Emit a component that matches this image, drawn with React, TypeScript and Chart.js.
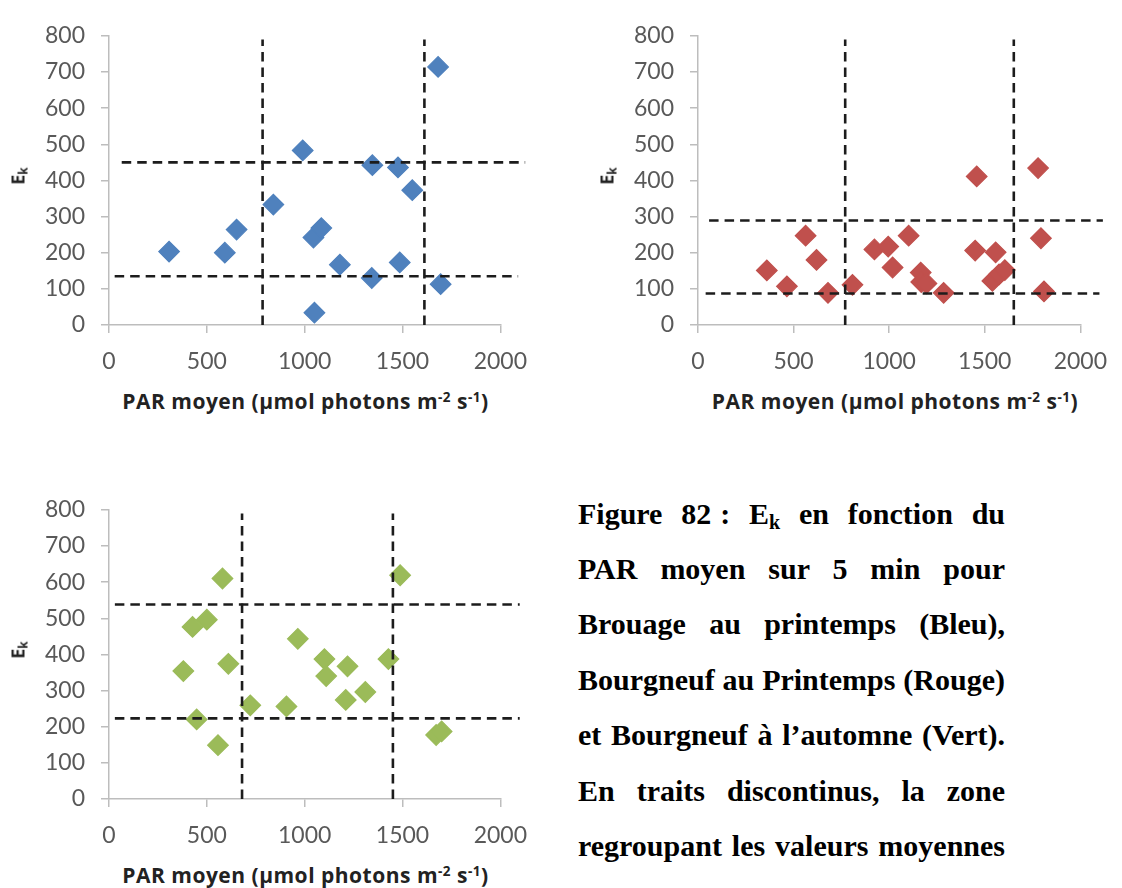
import React, { useEffect, useRef } from "react";
import { Chart, registerables } from "chart.js";

Chart.register(...registerables);

// ---------------- Data ----------------
const xTickValues = [0, 500, 1000, 1500, 2000];
const yTickValues = [0, 100, 200, 300, 400, 500, 600, 700, 800];

// Brouage au printemps (bleu)
const parBrouage = [307, 592, 652, 840, 990, 1045, 1085, 1050, 1180, 1343, 1346, 1477, 1486, 1550, 1682, 1695];
const ekBrouage = [203, 200, 264, 333, 483, 242, 268, 34, 167, 130, 442, 436, 173, 373, 714, 113];
const vLinesBrouage = [785, 1612];
const hLinesBrouage = [450, 135];
const hStartBrouage = [65, 29];
const hEndBrouage = [2127, 2091];

// Bourgneuf au printemps (rouge)
const parBourgPrint = [360, 465, 563, 620, 680, 808, 923, 995, 1018, 1102, 1165, 1168, 1195, 1285, 1458, 1450, 1557, 1540, 1575, 1605, 1779, 1794, 1810];
const ekBourgPrint = [151, 107, 247, 180, 89, 111, 209, 217, 159, 247, 145, 119, 115, 89, 411, 206, 201, 122, 140, 152, 434, 240, 93];
const vLinesBourgPrint = [770, 1652];
const hLinesBourgPrint = [289, 87];
const hStartBourgPrint = [58, 40];
const hEndBourgPrint = [2118, 2100];

// Bourgneuf à l'automne (vert)
const parBourgAut = [380, 427, 500, 448, 557, 580, 610, 722, 907, 965, 1101, 1110, 1210, 1219, 1310, 1428, 1488, 1672, 1700];
const ekBourgAut = [354, 476, 496, 220, 149, 610, 374, 259, 256, 443, 387, 340, 274, 367, 296, 387, 619, 177, 187];
const vLinesBourgAut = [680, 1451];
const hLinesBourgAut = [538, 223];
const hStartBourgAut = [30, 30];
const hEndBourgAut = [2099, 2099];

const vLineTop = 790;

// ---------------- Styles ----------------
const Y_AXIS_W = 100;
const X_AXIS_H = 55;
const PAD_TOP = 20;
const AXIS_COLOR = "#bdbdbd";
const TICK_COLOR = "#595959";
const DASH_COLOR = "#1c1c1c";
const SANS = "Lato, 'Open Sans', sans-serif";
const TITLE_SANS = "'Open Sans', Lato, sans-serif";

type PanelProps = {
  plotLeft: number;
  plotTop: number;
  plotW: number;
  plotH: number;
  padRight: number;
  xs: number[];
  ys: number[];
  color: string;
  vLines: number[];
  hLines: number[];
  hStart: number[];
  hEnd: number[];
};

function Panel(p: PanelProps) {
  const ref = useRef<HTMLCanvasElement>(null);
  const W = Y_AXIS_W + p.plotW + p.padRight;
  const H = PAD_TOP + p.plotH + X_AXIS_H;

  useEffect(() => {
    if (!ref.current) return;
    const dashStyle = {
      showLine: true,
      borderColor: DASH_COLOR,
      borderWidth: 2.6,
      borderDash: [9.5, 6],
      pointRadius: 0,
      pointHoverRadius: 0,
      clip: false as any,
      order: 0,
      fill: false,
    };
    const datasets: any[] = [
      ...p.vLines.map((v) => ({
        ...dashStyle,
        data: [
          { x: v, y: 0 },
          { x: v, y: vLineTop },
        ],
      })),
      ...p.hLines.map((h, i) => ({
        ...dashStyle,
        data: [
          { x: p.hStart[i], y: h },
          { x: p.hEnd[i], y: h },
        ],
      })),
      {
        data: p.xs.map((x, i) => ({ x, y: p.ys[i] })),
        showLine: false,
        pointStyle: "rectRot",
        pointRadius: 10.3,
        pointHoverRadius: 10.3,
        pointBackgroundColor: p.color,
        pointBorderColor: p.color,
        pointBorderWidth: 1.2,
        clip: false,
        order: 1,
      },
    ];

    const tickFont = { family: SANS, size: 23 };
    const chart = new Chart(ref.current, {
      type: "scatter",
      data: { datasets },
      options: {
        animation: false,
        responsive: false,
        devicePixelRatio: 1,
        events: [],
        layout: { padding: { left: 0, top: PAD_TOP, right: p.padRight, bottom: 0 } },
        plugins: {
          legend: { display: false },
          title: { display: false },
          tooltip: { enabled: false },
        },
        scales: {
          x: {
            type: "linear",
            min: 0,
            max: 2000,
            afterBuildTicks: (s: any) => {
              s.ticks = xTickValues.map((v) => ({ value: v }));
            },
            afterFit: (s: any) => {
              s.height = X_AXIS_H;
            },
            grid: {
              display: true,
              drawOnChartArea: false,
              drawTicks: true,
              tickLength: 8,
              color: AXIS_COLOR,
              lineWidth: 1.5,
            },
            border: { display: true, color: AXIS_COLOR, width: 1.5 },
            ticks: {
              color: TICK_COLOR,
              font: tickFont,
              padding: 15,
              maxRotation: 0,
              autoSkip: false,
              callback: (v: any) => String(v),
            },
          },
          y: {
            type: "linear",
            min: 0,
            max: 800,
            afterBuildTicks: (s: any) => {
              s.ticks = yTickValues.map((v) => ({ value: v }));
            },
            afterFit: (s: any) => {
              s.width = Y_AXIS_W;
            },
            grid: {
              display: true,
              drawOnChartArea: false,
              drawTicks: true,
              tickLength: 8,
              color: AXIS_COLOR,
              lineWidth: 1.5,
            },
            border: { display: true, color: AXIS_COLOR, width: 1.5 },
            ticks: {
              color: TICK_COLOR,
              font: tickFont,
              padding: 16,
              autoSkip: false,
              callback: (v: any) => String(v),
            },
          },
        },
      } as any,
    });
    return () => chart.destroy();
  }, []);

  const centerX = p.plotLeft + p.plotW / 2;
  const baseY = p.plotTop + p.plotH;
  return (
    <>
      <canvas
        ref={ref}
        width={W}
        height={H}
        style={{ position: "absolute", left: p.plotLeft - Y_AXIS_W, top: p.plotTop - PAD_TOP, width: W, height: H }}
      />
      {/* Y-axis title */}
      <div
        style={{
          position: "absolute",
          left: p.plotLeft - 90,
          top: p.plotTop + p.plotH / 2,
          transform: "translate(-50%, -50%) rotate(-90deg)",
          fontFamily: TITLE_SANS,
          fontWeight: 700,
          fontSize: 18,
          color: "#222",
          whiteSpace: "nowrap",
          lineHeight: "20px",
        }}
      >
        E
        <span style={{ fontSize: 12, position: "relative", top: 3 }}>k</span>
      </div>
      {/* X-axis title */}
      <div
        style={{
          position: "absolute",
          left: centerX - 250,
          width: 500,
          top: baseY + 64,
          textAlign: "center",
          fontFamily: TITLE_SANS,
          fontWeight: 700,
          fontSize: 21,
          letterSpacing: 0.5,
          lineHeight: "24px",
          color: "#222",
          whiteSpace: "nowrap",
        }}
      >
        PAR moyen (µmol photons m
        <span style={{ fontSize: 13.5, position: "relative", top: -7 }}>-2</span> s
        <span style={{ fontSize: 13.5, position: "relative", top: -7 }}>-1</span>)
      </div>
    </>
  );
}

const captionLineStyle: React.CSSProperties = {
  textAlign: "justify",
  textAlignLast: "justify" as any,
  whiteSpace: "nowrap",
  height: 55.45,
  lineHeight: "55.45px",
};

export default function App() {
  return (
    <div
      style={{
        position: "absolute",
        left: 0,
        top: 0,
        width: 1122,
        height: 888,
        overflow: "hidden",
        background: "#fff",
      }}
    >
      <Panel
        plotLeft={109}
        plotTop={26}
        plotW={393}
        plotH={299}
        padRight={40}
        xs={parBrouage}
        ys={ekBrouage}
        color="#4F81BD"
        vLines={vLinesBrouage}
        hLines={hLinesBrouage}
        hStart={hStartBrouage}
        hEnd={hEndBrouage}
      />
      <Panel
        plotLeft={698}
        plotTop={26}
        plotW={394}
        plotH={299}
        padRight={30}
        xs={parBourgPrint}
        ys={ekBourgPrint}
        color="#C0504D"
        vLines={vLinesBourgPrint}
        hLines={hLinesBourgPrint}
        hStart={hStartBourgPrint}
        hEnd={hEndBourgPrint}
      />
      <Panel
        plotLeft={109}
        plotTop={500}
        plotW={393}
        plotH={299}
        padRight={40}
        xs={parBourgAut}
        ys={ekBourgAut}
        color="#9BBB59"
        vLines={vLinesBourgAut}
        hLines={hLinesBourgAut}
        hStart={hStartBourgAut}
        hEnd={hEndBourgAut}
      />
      <div
        style={{
          position: "absolute",
          left: 578,
          top: 485.5,
          width: 427,
          fontFamily: "'Liberation Serif', 'Times New Roman', serif",
          fontWeight: 700,
          fontSize: 30,
          color: "#000",
        }}
      >
        <div style={captionLineStyle}>
          Figure 82<span style={{ paddingLeft: 9 }}>:</span> E
          <span style={{ fontSize: 20, position: "relative", top: 5 }}>k</span> en fonction du
        </div>
        <div style={captionLineStyle}>PAR moyen sur 5 min pour</div>
        <div style={captionLineStyle}>Brouage au printemps (Bleu),</div>
        <div style={captionLineStyle}>Bourgneuf au Printemps (Rouge)</div>
        <div style={captionLineStyle}>et Bourgneuf à l’automne (Vert).</div>
        <div style={captionLineStyle}>En traits discontinus, la zone</div>
        <div style={captionLineStyle}>regroupant les valeurs moyennes</div>
      </div>
    </div>
  );
}
